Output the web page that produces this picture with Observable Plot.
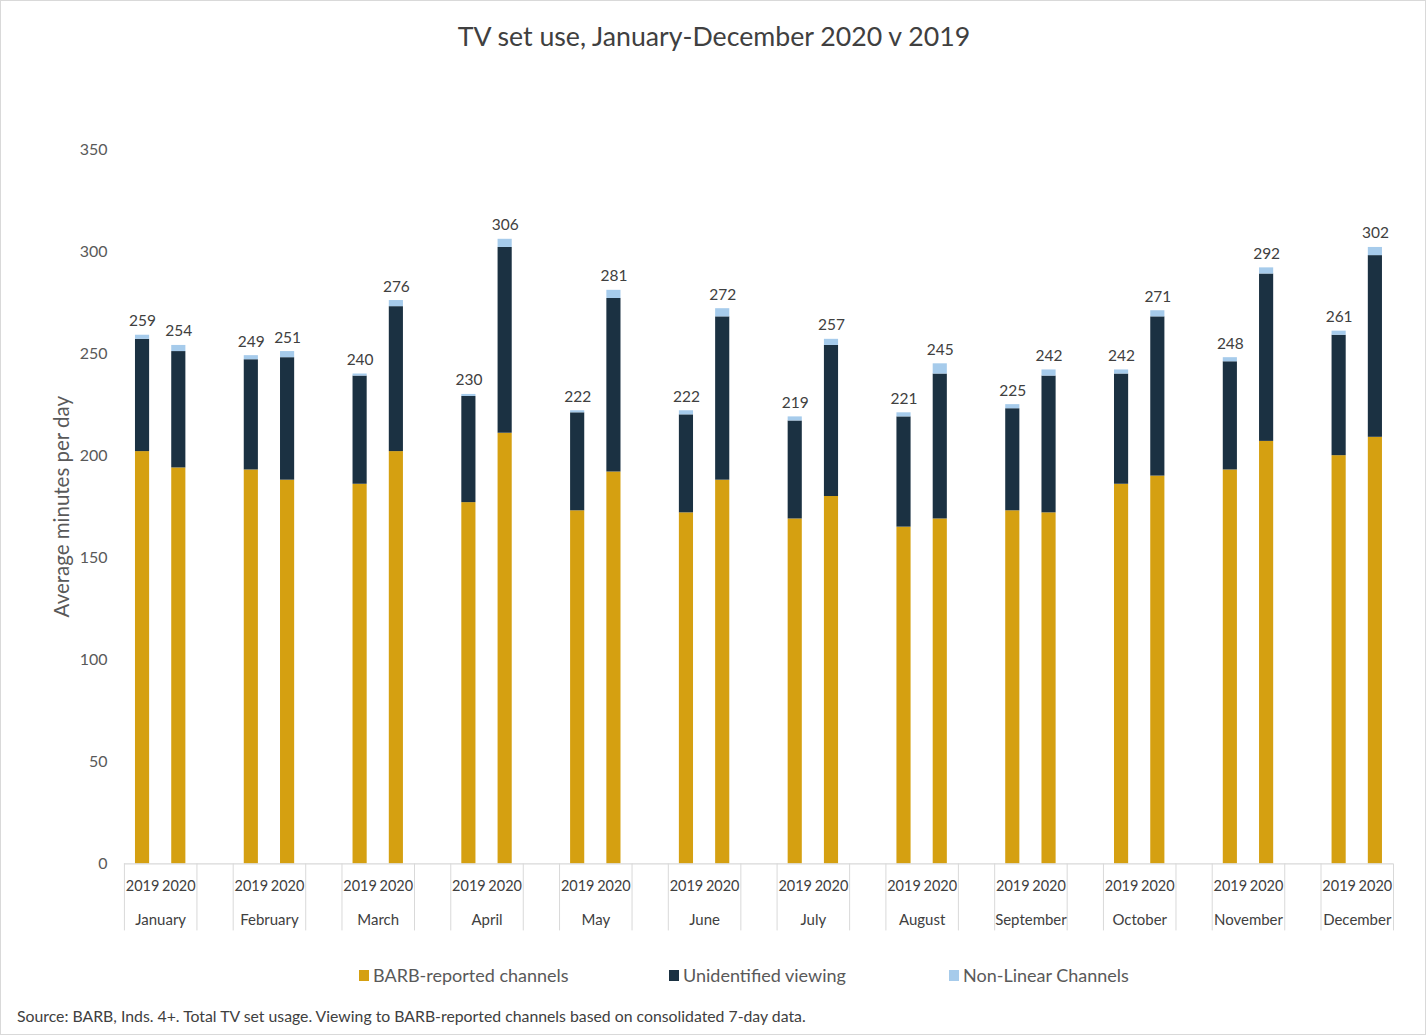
<!DOCTYPE html>
<html>
<head>
<meta charset="utf-8">
<script src="https://cdn.jsdelivr.net/npm/d3@7"></script>
<script src="https://cdn.jsdelivr.net/npm/@observablehq/plot@0.6"></script>
<style>
  html, body { margin: 0; padding: 0; background: #fff; }
  #frame { position: relative; width: 1426px; height: 1035px; box-sizing: border-box; border: 1px solid #d9d9d9; font-family: Lato, "Noto Sans", sans-serif; overflow: hidden; }
  #title { position: absolute; left: 0; width: 1426px; top: 19px; text-align: center; font-size: 26.7px; color: #404040; }
  #chart { position: absolute; left: -1px; top: 99px; }
  #legend { position: absolute; top: 963px; left: 0; width: 1426px; height: 24px; font-size: 18px; color: #595959; }
  .li { position: absolute; top: 0; display: flex; align-items: center; }
  .sw { width: 10px; height: 11px; margin-right: 4px; }
  #caption { position: absolute; left: 16px; top: 1005px; font-size: 15.8px; color: #404040; }
</style>
</head>
<body>
<div id="frame">
  <div id="title">TV set use, January-December 2020 v 2019</div>
  <div id="chart"></div>
  <div id="legend"></div>
  <div id="caption">Source: BARB, Inds. 4+. Total TV set usage. Viewing to BARB-reported channels based on consolidated 7-day data.</div>
</div>
<script>
// ---- data ----
const months = ["January","February","March","April","May","June","July","August","September","October","November","December"];
const years = ["2019", "2020"];
const seriesNames = ["BARB-reported channels", "Unidentified viewing", "Non-Linear Channels"];
const seriesColors = ["#D5A011", "#1B3142", "#A6CBEB"];

const barb2019    = [202,193,186,177,173,172,169,165,173,186,193,200];
const unid2019    = [55,54,53,52,48,48,48,54,50,54,53,59];
const nonlin2019  = [2,2,1,1,1,2,2,2,2,2,2,2];
const total2019   = [259,249,240,230,222,222,219,221,225,242,248,261];

const barb2020    = [194,188,202,211,192,188,180,169,172,190,207,209];
const unid2020    = [57,60,71,91,85,80,74,71,67,78,82,89];
const nonlin2020  = [3,3,3,4,4,4,3,5,3,3,3,4];
const total2020   = [254,251,276,306,281,272,257,245,242,271,292,302];

const yTicks = [0,50,100,150,200,250,300,350];

// ---- build tables ----
const slotKey = (m, y) => m + "|" + y;
const domain = [];
months.forEach((m, i) => {
  domain.push(slotKey(m, "2019"), slotKey(m, "2020"));
  if (i < months.length - 1) domain.push(slotKey(m, "gap"));
});

const byYear = {
  "2019": [barb2019, unid2019, nonlin2019, total2019],
  "2020": [barb2020, unid2020, nonlin2020, total2020]
};
const rows = [];
const totals = [];
months.forEach((m, i) => {
  years.forEach(y => {
    const [b, u, n, t] = byYear[y];
    [b, u, n].forEach((arr, s) => rows.push({slot: slotKey(m, y), series: seriesNames[s], order: s, value: arr[i]}));
    totals.push({slot: slotKey(m, y), total: t[i]});
  });
});

const W = 1426, H = 841;
const mL = 124, mR = 32, mT = 49, mB = 77;
const slot = (W - mL - mR) / domain.length;
const keys2019 = months.map(m => slotKey(m, "2019"));
const keys2020 = months.map(m => slotKey(m, "2020"));

const chart = Plot.plot({
  width: W, height: H,
  marginLeft: mL, marginRight: mR, marginTop: mT, marginBottom: mB,
  style: {fontFamily: "Lato, 'Noto Sans', sans-serif", background: "transparent"},
  x: {domain, paddingInner: 0.61, paddingOuter: 0.305, round: false},
  y: {domain: [0, 350]},
  color: {domain: seriesNames, range: seriesColors},
  marks: [
    Plot.axisY({ticks: yTicks, tickSize: 0, tickPadding: 17, label: null, fontSize: 16, color: "#595959"}),
    Plot.text(["Average minutes per day"], {text: d => d, frameAnchor: "left", textAnchor: "middle", rotate: -90, dx: -62, fontSize: 20.5, fill: "#595959"}),
    Plot.barY(rows, {x: "slot", y: "value", fill: "series", order: seriesNames}),
    Plot.text(totals, {x: "slot", y: "total", text: d => String(d.total), lineAnchor: "bottom", dy: -9, fontSize: 15.5, fill: "#404040"}),
    Plot.ruleY([0], {stroke: "#d9d9d9", strokeWidth: 1.2}),
    Plot.axisX({ticks: keys2019, tickSize: 67, tickFormat: () => "", stroke: "#d9d9d9", label: null, dx: -slot / 2}),
    Plot.axisX({ticks: keys2020, tickSize: 67, tickFormat: () => "", stroke: "#d9d9d9", label: null, dx: slot / 2}),
    Plot.axisX({ticks: [...keys2019, ...keys2020], tickSize: 0, tickPadding: 17, tickFormat: k => k.split("|")[1], label: null, fontSize: 14.5, color: "#404040"}),
    Plot.text(months, {x: m => slotKey(m, "2019"), text: d => d, frameAnchor: "bottom", dy: 61, dx: slot / 2, fontSize: 15, fill: "#404040"})
  ]
});
document.getElementById("chart").appendChild(chart);

// ---- legend ----
const legend = document.getElementById("legend");
const legendX = [358, 668, 948];
seriesNames.forEach((name, i) => {
  const item = document.createElement("div");
  item.className = "li";
  item.style.left = legendX[i] + "px";
  const sw = document.createElement("span");
  sw.className = "sw";
  sw.style.background = seriesColors[i];
  const tx = document.createElement("span");
  tx.textContent = name;
  item.appendChild(sw);
  item.appendChild(tx);
  legend.appendChild(item);
});
</script>
</body>
</html>
